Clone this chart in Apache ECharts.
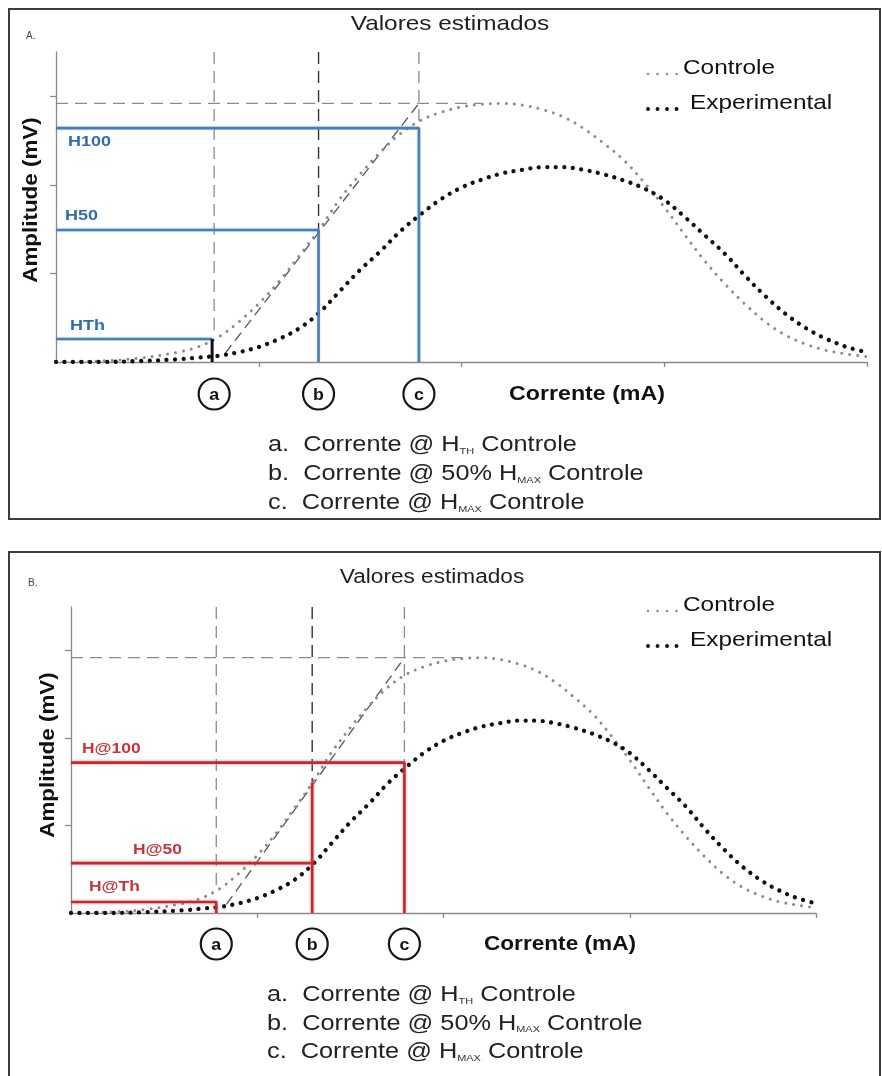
<!DOCTYPE html>
<html>
<head>
<meta charset="utf-8">
<script src="https://cdn.jsdelivr.net/npm/echarts@6/dist/echarts.min.js"></script>
<style>
  html, body { margin: 0; padding: 0; background: #ffffff; }
  #chart { width: 882px; height: 1076px; }
</style>
</head>
<body>
<div id="chart"></div>
<script>
// Stimulus current (mA, arbitrary units) and estimated response amplitude (mV, arbitrary units)
const current = [0, 0.2, 0.4, 0.6, 0.7, 0.8, 0.9, 1.0, 1.1, 1.2, 1.3, 1.4, 1.5, 1.6, 1.7, 1.8, 1.9,
  2.0, 2.1, 2.2, 2.3, 2.4, 2.5, 2.6, 2.7, 2.8, 2.9, 3.0, 3.1, 3.2, 3.3, 3.4, 3.5, 3.6, 3.7, 3.8, 3.9, 4.0];
const controle = [0, 0.01, 0.04, 0.11, 0.17, 0.28, 0.45, 0.66, 0.91, 1.20, 1.50, 1.84, 2.12, 2.37, 2.58, 2.73, 2.82,
  2.88, 2.91, 2.92, 2.90, 2.85, 2.77, 2.64, 2.47, 2.28, 2.03, 1.75, 1.44, 1.14, 0.88, 0.65, 0.45, 0.30, 0.20, 0.13, 0.09, 0.06];
const experimental = [0, 0.0, 0.01, 0.03, 0.05, 0.07, 0.11, 0.17, 0.26, 0.38, 0.56, 0.80, 1.04, 1.25, 1.48, 1.67, 1.84,
  1.97, 2.06, 2.13, 2.17, 2.20, 2.20, 2.17, 2.12, 2.05, 1.96, 1.83, 1.64, 1.43, 1.22, 0.97, 0.74, 0.54, 0.38, 0.26, 0.17, 0.11];

// Axis ticks
const xTicks = [1, 2, 3, 4];
const yTicks = [1, 2, 3];

// Reference currents a, b, c (threshold, 50% Hmax, Hmax of the control curve)
const markerNames = ['a', 'b', 'c'];
const markerCurrent = [0.78, 1.295, 1.79];

// Amplitude levels: threshold, 50% and 100%
const controleLevelNames = ['HTh', 'H50', 'H100'];
const controleLevels = [0.26, 1.49, 2.64];
const experimentalLevelNames = ['H@Th', 'H@50', 'H@100'];
const experimentalLevels = [0.125, 0.57, 1.72];
const hMax = 2.92;
const hMaxReach = 2.1;          // current where the Hmax guide stops
const thresholdGuideEnd = 0.3;  // amplitude where the guide at "a" stops

// Slope line through the rising phase of the control curve
const tangentLine = [[0.835, 0.1], [1.79, 2.92]];

const panelTitles = ['Valores estimados', 'Valores estimados'];
const panelLetters = ['A.', 'B.'];
const legendNames = ['Controle', 'Experimental'];
const axisNames = ['Amplitude (mV)', 'Corrente (mA)'];
const notes = [
  ['a.  Corrente @ H', 'TH', ' Controle'],
  ['b.  Corrente @ 50% H', 'MAX', ' Controle'],
  ['c.  Corrente @ H', 'MAX', ' Controle']
];

const FONT = '"Liberation Sans", Arial, Helvetica, sans-serif';
const SX = 1.16;
const BLUE = '#4a7dbb';
const BLUE_TXT = '#2f6eae';
const RED = '#c8262b';
const RED_TXT = '#c9343a';
const AXIS = '#8a8a8a';
const GREY_DOT = { color: '#8c8c8c', width: 3, dash: [0.01, 8] };
const BLACK_DOT = { color: '#111111', width: 4.3, dash: [0.01, 8.5] };

const chart = echarts.init(document.getElementById('chart'), null, { renderer: 'canvas' });

function pairs(xs, ys) { return xs.map((x, i) => [x, ys[i]]); }

function axesFor(gi) {
  return {
    x: {
      gridIndex: gi, type: 'value', min: 0, max: 4, interval: 1,
      axisLine: { show: true, onZero: false, lineStyle: { color: AXIS, width: 1.3 } },
      axisTick: { show: true, inside: false, length: 5, customValues: xTicks, lineStyle: { color: AXIS, width: 1.3 } },
      axisLabel: { show: false }, splitLine: { show: false }
    },
    y: {
      gridIndex: gi, type: 'value', min: 0, max: 3.5, interval: 1,
      axisLine: { show: true, onZero: false, lineStyle: { color: AXIS, width: 1.3 } },
      axisTick: { show: true, inside: false, length: 6, customValues: yTicks, lineStyle: { color: AXIS, width: 1.3 } },
      axisLabel: { show: false }, splitLine: { show: false }
    }
  };
}

function seg(gi, data, color, width, type, z, extra) {
  return Object.assign({
    type: 'line', xAxisIndex: gi, yAxisIndex: gi, data: data,
    symbol: 'none', showSymbol: false, silent: true, animation: false, z: z,
    lineStyle: { color: color, width: width, type: type || 'solid' }
  }, extra || {});
}

function curveSeries(gi) {
  return [
    seg(gi, pairs(current, controle), GREY_DOT.color, GREY_DOT.width, GREY_DOT.dash, 3,
      { smooth: 0.35, lineStyle: { color: GREY_DOT.color, width: GREY_DOT.width, type: GREY_DOT.dash, cap: 'round' } }),
    seg(gi, pairs(current, experimental), BLACK_DOT.color, BLACK_DOT.width, BLACK_DOT.dash, 3,
      { smooth: 0.35, lineStyle: { color: BLACK_DOT.color, width: BLACK_DOT.width, type: BLACK_DOT.dash, cap: 'round' } })
  ];
}

function guideSeries(gi, cEnd) {
  const dash = [12, 7];
  const a = markerCurrent[0], b = markerCurrent[1], c = markerCurrent[2];
  return [
    seg(gi, [[a, 3.5], [a, thresholdGuideEnd]], '#8a8a8a', 1.3, dash, 2),
    seg(gi, [[b, 3.5], [b, controleLevels[1]]], '#333333', 1.4, dash, 2),
    seg(gi, [[c, 3.5], [c, cEnd]], '#8a8a8a', 1.3, dash, 2),
    seg(gi, [[0, hMax], [hMaxReach, hMax]], '#8a8a8a', 1.3, dash, 2),
    seg(gi, tangentLine, '#555555', 1.3, [10, 6], 2)
  ];
}

const a = markerCurrent[0], b = markerCurrent[1], c = markerCurrent[2];
const blueGlow = { shadowBlur: 2, shadowColor: 'rgba(120,160,210,0.6)' };
const redGlow = { shadowBlur: 3, shadowColor: 'rgba(230,110,110,0.7)' };

const axA = axesFor(0), axB = axesFor(1);

const series = [].concat(
  curveSeries(0),
  guideSeries(0, controleLevels[2]),
  [
    seg(0, [[0, controleLevels[2]], [c, controleLevels[2]], [c, 0]], BLUE, 2.6, 'solid', 6, { lineStyle: Object.assign({ color: BLUE, width: 2.6 }, blueGlow) }),
    seg(0, [[0, controleLevels[1]], [b, controleLevels[1]], [b, 0]], BLUE, 2.6, 'solid', 6, { lineStyle: Object.assign({ color: BLUE, width: 2.6 }, blueGlow) }),
    seg(0, [[0, controleLevels[0]], [a - 0.01, controleLevels[0]]], BLUE, 2.6, 'solid', 6, { lineStyle: Object.assign({ color: BLUE, width: 2.6 }, blueGlow) }),
    seg(0, [[a - 0.01, 0], [a - 0.01, controleLevels[0]]], '#111111', 3, 'solid', 7)
  ],
  curveSeries(1),
  guideSeries(1, experimentalLevels[2]),
  [
    seg(1, [[0, experimentalLevels[2]], [c, experimentalLevels[2]], [c, 0]], RED, 2.6, 'solid', 6, { lineStyle: Object.assign({ color: RED, width: 2.6 }, redGlow) }),
    seg(1, [[0, experimentalLevels[1]], [b, experimentalLevels[1]]], RED, 2.6, 'solid', 6, { lineStyle: Object.assign({ color: RED, width: 2.6 }, redGlow) }),
    seg(1, [[b, controleLevels[1]], [b, 0]], RED, 2.6, 'solid', 6, { lineStyle: Object.assign({ color: RED, width: 2.6 }, redGlow) }),
    seg(1, [[0, experimentalLevels[0]], [a, experimentalLevels[0]], [a, 0]], RED, 2.6, 'solid', 6, { lineStyle: Object.assign({ color: RED, width: 2.6 }, redGlow) })
  ]
);

chart.setOption({
  animation: false,
  backgroundColor: '#ffffff',
  grid: [
    { left: 56, top: 52, width: 811, height: 310 },
    { left: 71, top: 607, width: 745, height: 306 }
  ],
  xAxis: [axA.x, axB.x],
  yAxis: [axA.y, axB.y],
  series: series
});

// ---- Text and decorations placed from the axes' own scales ----
function px(gi, x, y) { return chart.convertToPixel({ gridIndex: gi }, [x, y]); }

function txt(x, y, text, opts) {
  opts = opts || {};
  return {
    type: 'text', x: x, y: y, silent: true, z: 20,
    scaleX: opts.scaleX == null ? SX : opts.scaleX,
    rotation: opts.rotation || 0,
    style: {
      text: text,
      fontFamily: opts.family || FONT,
      fontSize: opts.size || 20,
      fontWeight: opts.weight || 'normal',
      fill: opts.color || '#1a1a1a',
      align: opts.align || 'left',
      verticalAlign: 'middle',
      textAlign: opts.align || 'left',
      textVerticalAlign: 'middle'
    }
  };
}

function noteLine(x, y, parts) {
  return {
    type: 'text', x: x, y: y, silent: true, z: 20, scaleX: 1.15,
    style: {
      text: '{m|' + parts[0] + '}{s|' + parts[1] + '}{m|' + parts[2] + '}',
      verticalAlign: 'middle', textVerticalAlign: 'middle', align: 'left', textAlign: 'left',
      rich: {
        m: { fontFamily: FONT, fontSize: 22, fill: '#222222', lineHeight: 28, verticalAlign: 'bottom' },
        s: { fontFamily: FONT, fontSize: 9.5, fill: '#333333', lineHeight: 16, verticalAlign: 'bottom' }
      }
    }
  };
}

// Legend entry: a short run of the series' own dots followed by its name
function legendEntry(x0, x1, xText, y, dot, name) {
  return [
    { type: 'line', silent: true, z: 20, shape: { x1: x0, y1: y + 6, x2: x1, y2: y + 6 },
      style: { stroke: dot.color, lineWidth: dot.width - 0.4, lineDash: [0.01, 9.5], lineCap: 'round' } },
    txt(xText, y, name, { size: 21, color: '#111111' })
  ];
}

function circleLabel(cx, cy, letter) {
  return [
    { type: 'circle', silent: true, z: 20, shape: { cx: cx, cy: cy, r: 15.5 },
      style: { fill: '#ffffff', stroke: '#151515', lineWidth: 2.2 } },
    txt(cx, cy + 1, letter, { size: 17, weight: 'bold', align: 'center', scaleX: 1.05, color: '#111' })
  ];
}

const g = [];
// Panel frames
g.push({ type: 'rect', silent: true, z: 1, shape: { x: 9, y: 9, width: 871, height: 510 },
  style: { fill: 'none', stroke: '#3c3c3c', lineWidth: 2 } });
g.push({ type: 'rect', silent: true, z: 1, shape: { x: 9, y: 552, width: 871, height: 560 },
  style: { fill: 'none', stroke: '#3c3c3c', lineWidth: 2 } });

// Panel letters and titles
g.push(txt(26, 36, panelLetters[0], { size: 10, color: '#444', scaleX: 1 }));
g.push(txt(28, 583, panelLetters[1], { size: 10, color: '#444', scaleX: 1 }));
g.push(txt(450, 24, panelTitles[0], { size: 21, align: 'center', color: '#1e1e1e' }));
g.push(txt(432, 578, panelTitles[1], { size: 19.5, align: 'center', color: '#1e1e1e' }));

// Legends
[[68, 103], [605, 640]].forEach(function (ys) {
  legendEntry(648, 678, 683, ys[0], GREY_DOT, legendNames[0]).forEach(function (e) { g.push(e); });
  legendEntry(648, 681, 690, ys[1], BLACK_DOT, legendNames[1]).forEach(function (e) { g.push(e); });
});

// Axis names
g.push(txt(31, 200, axisNames[0], { size: 20, weight: 'bold', align: 'center', rotation: Math.PI / 2, scaleX: 1.12, color: '#111' }));
g.push(txt(48, 755, axisNames[0], { size: 20, weight: 'bold', align: 'center', rotation: Math.PI / 2, scaleX: 1.12, color: '#111' }));

const zeroA = px(0, 0, 0), zeroB = px(1, 0, 0);
g.push(txt(587, zeroA[1] + 32, axisNames[1], { size: 20, weight: 'bold', align: 'center', color: '#111' }));
g.push(txt(560, zeroB[1] + 32, axisNames[1], { size: 19.5, weight: 'bold', align: 'center', color: '#111' }));

// Marker circles under the current axis
markerCurrent.forEach(function (m, i) {
  const pA = px(0, m, 0), pB = px(1, m, 0);
  circleLabel(pA[0], pA[1] + 32, markerNames[i]).forEach(function (e) { g.push(e); });
  circleLabel(pB[0], pB[1] + 31, markerNames[i]).forEach(function (e) { g.push(e); });
});

// Level labels
const labA = [[70, -13], [65, -14], [68, 14]];
controleLevels.forEach(function (v, i) {
  const p = px(0, 0, v);
  g.push(txt(labA[i][0], p[1] + labA[i][1], controleLevelNames[i], { size: 15.5, weight: 'bold', color: BLUE_TXT }));
});
const labB = [[89, -15], [133, -13], [82, -14]];
experimentalLevels.forEach(function (v, i) {
  const p = px(1, 0, v);
  g.push(txt(labB[i][0], p[1] + labB[i][1], experimentalLevelNames[i], { size: 15, weight: 'bold', color: RED_TXT }));
});

// Notes
notes.forEach(function (parts, i) {
  g.push(noteLine(268, 442 + 29 * i, parts));
  g.push(noteLine(267, 992 + 28.5 * i, parts));
});

chart.setOption({ graphic: g });
</script>
</body>
</html>
